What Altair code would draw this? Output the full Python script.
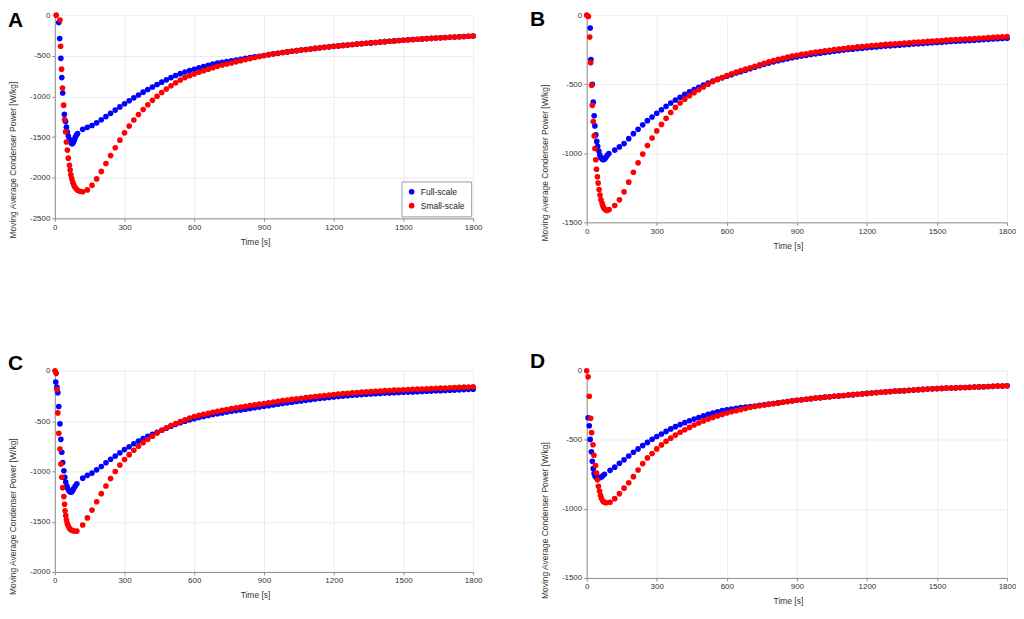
import altair as alt
import pandas as pd

FONT = "Liberation Sans"
STEP = 20  # spacing (s) of the regularly sampled part of each series

# ---------------- Panel A ----------------
A_full_t = [17, 21, 26, 30, 34, 41, 46, 50, 54, 58, 63, 67, 71, 75, 80, 84, 88, 93, 98]
A_full_v = [-91, -287, -531, -768, -957, -1220, -1307, -1378, -1437, -1488, -1528, -1555,
            -1575, -1583, -1567, -1535, -1504, -1476, -1457]
A_full_start = 120
A_full_reg = [-1405, -1380, -1357, -1325, -1287, -1248, -1208, -1168, -1129, -1090,
              -1053, -1017, -982, -947, -915, -884, -853, -824, -796, -768,
              -742, -720, -700, -682, -665, -648, -632, -617, -603, -590,
              -580, -571, -562, -552, -542, -532, -522, -513, -505, -497]
A_small_t = [6, 22, 25, 29, 33, 38, 42, 46, 50, 54, 58, 63, 66, 69, 73, 77, 81, 86, 91, 98, 107]
A_small_v = [0, -59, -383, -664, -897, -1107, -1285, -1435, -1561, -1660, -1759, -1846,
             -1905, -1964, -2012, -2055, -2087, -2115, -2134, -2154, -2166]
A_small_start = 120
A_small_reg = [-2172, -2150, -2092, -2015, -1922, -1825, -1728, -1632, -1538, -1448,
               -1365, -1290, -1222, -1160, -1102, -1048, -998, -952, -909, -869,
               -832, -798, -768, -744, -724, -703, -683, -664, -646, -629,
               -614, -601, -588, -574, -560, -547, -534, -521, -509, -497]
A_tail_start = 920  # both series coincide from here on
A_tail = [-486, -476, -468, -460, -452, -444, -437, -430, -423, -416,
          -409, -402, -396, -390, -384, -378, -372, -367, -361, -356,
          -351, -346, -341, -336, -331, -326, -321, -317, -312, -308,
          -304, -300, -296, -292, -288, -285, -281, -278, -275, -272,
          -269, -266, -263, -260, -257]

# ---------------- Panel B ----------------
B_full_t = [15, 18, 24, 28, 32, 35, 39, 43, 47, 52, 56, 60, 66, 71, 77, 82, 88, 95]
B_full_v = [-93, -321, -500, -630, -728, -802, -867, -914, -949, -984, -1012, -1030,
            -1042, -1047, -1042, -1030, -1014, -1002]
B_full_start = 120
B_full_reg = [-977, -954, -930, -894, -858, -826, -794, -764, -737, -710,
              -685, -660, -636, -614, -594, -574, -555, -538, -522, -506,
              -491, -477, -465, -454, -442, -431, -419, -409, -399, -388,
              -377, -366, -356, -347, -338, -330, -322, -315, -308, -302,
              -296, -291, -285, -280, -275, -270, -266, -261, -257, -253,
              -249, -246, -242, -239, -236, -233, -230, -227, -224, -222,
              -219, -217, -214, -212, -209, -207, -205, -202, -200, -198,
              -196, -193, -191, -189, -187, -185, -183, -181, -179, -177,
              -175, -173, -171, -169, -167]
B_small_t = [0, 7, 13, 17, 21, 24, 28, 32, 35, 39, 42, 46, 49, 53, 57, 61, 66, 70, 74, 80, 87, 96]
B_small_v = [0, -9, -158, -344, -507, -653, -770, -874, -965, -1047, -1116, -1170, -1216,
             -1263, -1302, -1337, -1363, -1384, -1398, -1409, -1414, -1407]
B_small_start = 120
B_small_reg = [-1378, -1337, -1279, -1209, -1137, -1069, -1006, -944, -889, -838,
               -791, -747, -705, -668, -636, -608, -583, -561, -540, -520,
               -500, -481, -465, -451, -438, -425, -412, -401, -391, -381,
               -370, -359, -348, -338, -329, -320, -312, -304, -297, -290,
               -284, -279, -273, -268, -263, -258, -254, -249, -245, -241,
               -237, -234, -230, -227, -224, -221, -218, -215, -212, -210,
               -207, -205, -202, -200, -197, -195, -193, -190, -188, -186,
               -184, -181, -179, -177, -175, -173, -171, -169, -167, -165,
               -163, -161, -159, -157, -155]

# ---------------- Panel C ----------------
C_full_t = [4, 9, 13, 17, 22, 26, 30, 34, 39, 43, 47, 52, 56, 60, 65, 69, 73, 77, 82, 88, 95]
C_full_v = [-112, -163, -218, -355, -528, -682, -810, -912, -995, -1059, -1107, -1146,
            -1171, -1190, -1203, -1206, -1203, -1190, -1168, -1146, -1123]
C_full_start = 120
C_full_reg = [-1068, -1040, -1017, -985, -952, -915, -880, -848, -816, -784,
              -755, -726, -699, -675, -652, -631, -611, -592, -571, -551,
              -533, -516, -501, -488, -476, -465, -454, -444, -435, -427,
              -419, -411, -403, -396, -389, -382, -375, -368, -361, -354,
              -347, -340, -333, -326, -319, -312, -306, -300, -294, -288,
              -282, -276, -270, -265, -260, -256, -252, -248, -244, -240,
              -237, -234, -231, -228, -225, -222, -220, -218, -216, -214,
              -212, -210, -208, -206, -204, -202, -200, -198, -196, -194,
              -192, -190, -187, -185, -183]
C_small_t = [1, 6, 9, 13, 17, 22, 26, 30, 34, 39, 42, 44, 47, 50, 53, 57, 62, 67, 75, 83, 95]
C_small_v = [0, -26, -186, -419, -621, -778, -928, -1059, -1162, -1251, -1328, -1392,
             -1440, -1482, -1514, -1539, -1562, -1578, -1587, -1594, -1594]
C_small_start = 120
C_small_reg = [-1533, -1463, -1385, -1302, -1222, -1146, -1072, -1002, -938, -882,
               -834, -790, -751, -715, -682, -650, -620, -592, -567, -545,
               -525, -506, -488, -470, -455, -443, -432, -422, -412, -403,
               -394, -386, -377, -369, -361, -353, -346, -339, -332, -325,
               -318, -311, -304, -297, -291, -285, -279, -273, -267, -261,
               -256, -251, -246, -241, -236, -232, -228, -224, -220, -216,
               -213, -210, -207, -204, -201, -198, -196, -193, -191, -189,
               -187, -185, -183, -181, -179, -177, -175, -173, -171, -169,
               -167, -165, -163, -161, -160]

# ---------------- Panel D ----------------
D_full_t = [6, 11, 15, 20, 24, 28, 32, 36, 41, 45, 50, 56, 62, 67, 76]
D_full_v = [-340, -398, -497, -587, -656, -709, -744, -763, -772, -777, -777, -774, -770, -763, -749]
D_full_start = 100
D_full_reg = [-721, -698, -670, -645, -617, -590, -566, -542, -519, -496,
              -476, -458, -439, -421, -405, -390, -376, -362, -350, -339,
              -327, -316, -306, -297, -288, -283, -277, -272, -267, -263,
              -259, -255, -250, -246, -242, -238]
D_small_t = [0, 6, 11, 17, 21, 27, 31, 38, 42, 46, 50, 55, 59, 63, 69, 76, 82]
D_small_v = [0, -44, -185, -344, -448, -536, -612, -686, -740, -790, -837, -871, -901,
             -924, -943, -952, -955]
D_small_start = 100
D_small_reg = [-952, -926, -890, -850, -811, -767, -719, -672, -631, -599,
               -566, -537, -511, -488, -466, -445, -427, -410, -393, -378,
               -363, -350, -338, -327, -317, -306, -297, -289, -281, -273,
               -265, -259, -253, -248, -243, -238]
D_tail_start = 820  # both series coincide from here on
D_tail = [-233, -228, -223, -218, -214, -210, -206, -202, -198, -195,
          -191, -188, -185, -182, -179, -176, -173, -170, -167, -164,
          -161, -158, -156, -153, -151, -148, -146, -144, -142, -140,
          -137, -135, -133, -131, -129, -128, -126, -125, -124, -122,
          -121, -120, -118, -117, -116, -114, -113, -111, -110, -109]

SERIES = ["Full-scale", "Small-scale"]
COLORS = ["#0000ff", "#ff0000"]
X_TICKS = [0, 300, 600, 900, 1200, 1500, 1800]


def build(t_early, v_early, start, reg, tail_start=None, tail=None):
    t = list(t_early) + [start + STEP * i for i in range(len(reg))]
    v = list(v_early) + list(reg)
    if tail is not None:
        t += [tail_start + STEP * i for i in range(len(tail))]
        v += list(tail)
    return t, v


def frame(full, small):
    rows = []
    for name, (t, v) in zip(SERIES, [full, small]):
        for ti, vi in zip(t, v):
            rows.append({"t": ti, "v": vi, "series": name})
    df = pd.DataFrame(rows)
    df["k"] = range(len(df))
    return df


dfA = frame(build(A_full_t, A_full_v, A_full_start, A_full_reg, A_tail_start, A_tail),
            build(A_small_t, A_small_v, A_small_start, A_small_reg, A_tail_start, A_tail))
dfB = frame(build(B_full_t, B_full_v, B_full_start, B_full_reg),
            build(B_small_t, B_small_v, B_small_start, B_small_reg))
dfC = frame(build(C_full_t, C_full_v, C_full_start, C_full_reg),
            build(C_small_t, C_small_v, C_small_start, C_small_reg))
dfD = frame(build(D_full_t, D_full_v, D_full_start, D_full_reg, D_tail_start, D_tail),
            build(D_small_t, D_small_v, D_small_start, D_small_reg, D_tail_start, D_tail))


def panel(df, letter, ymin, w, h, lx, ly, ty, legend=False):
    yt = list(range(ymin, 1, 500))
    if legend:
        leg = alt.Legend(title=None, orient="bottom-right", offset=2, fillColor="white",
                         strokeColor="#9a9a9a", padding=6, rowPadding=5, labelFontSize=8.5,
                         labelFont=FONT, labelColor="#222", symbolSize=32, symbolType="circle",
                         symbolStrokeWidth=0, labelOffset=5, cornerRadius=0)
    else:
        leg = None
    pts = alt.Chart(df).mark_circle(size=32, opacity=1).encode(
        x=alt.X("t:Q", scale=alt.Scale(domain=[0, 1800], nice=False, zero=False),
                axis=alt.Axis(values=X_TICKS, title="Time [s]", labelExpr="toString(datum.value)",
                              labelFlush=False, titleX=w / 2 - 9, titleY=23,
                              titleBaseline="middle", titleAlign="center")),
        y=alt.Y("v:Q", scale=alt.Scale(domain=[ymin, 0], nice=False, zero=False),
                axis=alt.Axis(values=yt, title="Moving Average Condenser Power [W/kg]",
                              labelExpr="toString(datum.value)", titleX=-42, titleY=ty,
                              titleAngle=270, titleAlign="center", titleBaseline="middle")),
        color=alt.Color("series:N", scale=alt.Scale(domain=SERIES, range=COLORS), legend=leg),
        order=alt.Order("k:Q"),
    )
    lab = alt.Chart(pd.DataFrame({"lab": [letter]})).mark_text(
        font=FONT, fontSize=21, fontWeight="bold", align="left", baseline="alphabetic",
        color="black"
    ).encode(text="lab:N", x=alt.value(lx), y=alt.value(ly))
    return alt.layer(pts, lab).properties(width=w, height=h)


pA = panel(dfA, "A", -2500, 420, 204, -47, 11.5, 145, legend=True)
pB = panel(dfB, "B", -1500, 422, 208, -57, 11, 148)
pC = panel(dfC, "C", -2000, 420, 202, -47, -1, 146)
pD = panel(dfD, "D", -1500, 422, 208, -57, -2.5, 150)

chart = alt.concat(
    pA, pB, pC, pD, columns=2, spacing={"row": 149, "column": 114}, bounds="flush"
).resolve_scale(
    color="independent"
).properties(
    padding={"left": 0, "top": 0, "right": 0, "bottom": 0}
).configure_view(strokeWidth=0).configure_axis(
    labelFont=FONT, titleFont=FONT, labelFontSize=8, titleFontSize=8.5,
    titleFontWeight="normal", labelColor="#333", titleColor="#333",
    domainColor="#8c8c8c", tickColor="#8c8c8c", tickSize=3, labelPadding=2,
    gridColor="#e8e8e8", gridWidth=0.8, grid=True
).configure_legend(labelFont=FONT)

chart.save("out.html", embed_options={"renderer": "svg", "actions": False})
